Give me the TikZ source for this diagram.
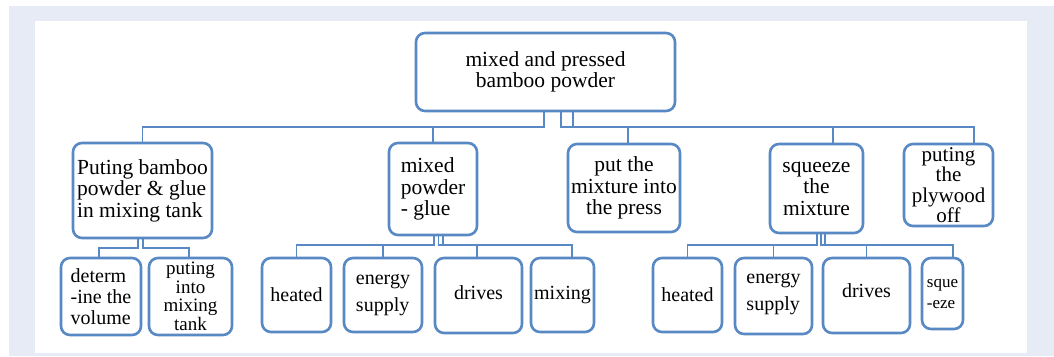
\documentclass[tikz,border=0pt]{standalone}
\usepackage{fontspec}
\setmainfont{Liberation Serif}
\newfontfamily\tnr{Liberation Serif}
\usetikzlibrary{calc}

\definecolor{lineblue}{RGB}{88,137,196}
\definecolor{framebg}{RGB}{231,235,245}

\begin{document}
\begin{tikzpicture}[x=1pt, y=-1pt,
bx/.style = {% rounded boxes
    draw=lineblue, line width=2.6pt, rounded corners=9pt, fill=white,
    inner sep=0pt, outer sep=0pt, align=center,
    font=\tnr\fontsize{20}{21}\selectfont,
            },
big/.style = {font=\tnr\fontsize{21.5}{21.5}\selectfont},
ln/.style = {draw=lineblue, line width=1.8pt},
                        ]
% frame
\useasboundingbox (0,0) rectangle (1054,356);
\fill[framebg] (9,6) rectangle (1054,356);
\fill[white] (35,21) rectangle (1027,353);
% top box
\node[bx,big,minimum width=259,minimum height=78] (top) at (545.5,72)
     {mixed and pressed\\bamboo powder};
% second row
\node[bx,big,align=left,minimum width=139,minimum height=95] (pA) at (142.5,190.5)
     {Puting bamboo\\powder \& glue\\in mixing tank};
\node[bx,big,align=left,minimum width=88,minimum height=92] (pB) at (433,189)
     {mixed\\powder\\- glue};
\node[bx,big,minimum width=112,minimum height=88] (pC) at (624,188)
     {put the\\mixture into\\the press};
\node[bx,big,minimum width=93,minimum height=89] (pD) at (816.5,188.5)
     {squeeze\\the\\mixture};
\node[bx,font=\tnr\fontsize{21}{20.5}\selectfont,minimum width=89,minimum height=82] (pE) at (948.5,185)
     {puting\\the\\plywood\\off};
% third row, under pA
\node[bx,align=left,minimum width=80,minimum height=77] (a1) at (101,296.5)
     {determ\\-ine the\\volume};
\node[bx,font=\tnr\fontsize{19}{18.5}\selectfont,minimum width=83,minimum height=77] (a2) at (190.5,296.5)
     {puting\\into\\mixing\\tank};
% third row, under pB
\node[bx,minimum width=69,minimum height=74] (b1) at (296.5,295) {heated};
\node[bx,align=left,font=\tnr\fontsize{20}{27}\selectfont,minimum width=78,minimum height=74] (b2) at (383,295)
     {energy\\supply};
\node[bx,minimum width=87,minimum height=75] (b3) at (478.5,295.5) {\raisebox{6pt}{drives}};
\node[bx,minimum width=63,minimum height=74] (b4) at (562.5,295) {mixing};
% third row, under pD
\node[bx,minimum width=69,minimum height=74] (d1) at (687.5,295) {heated};
\node[bx,align=left,font=\tnr\fontsize{20}{27}\selectfont,minimum width=77,minimum height=76] (d2) at (773.5,296)
     {\raisebox{8pt}{energy}\\\raisebox{8pt}{supply}};
\node[bx,minimum width=87,minimum height=75] (d3) at (866.5,295.5) {\raisebox{10pt}{drives}};
\node[bx,align=left,font=\tnr\fontsize{17}{21}\selectfont,minimum width=41,minimum height=71] (d4) at (942.5,293.5)
     {sque\\-eze};
% connectors from top box
\foreach \c/\s/\t in {pA/-1.5/0, pB/-1.5/0, pC/15.5/4, pD/27.5/16.5, pE/27.5/25.5}
    {\draw[ln] ([xshift=\s pt]top.south) -- ++(0,16) -| ([xshift=\t pt]\c.north);}
% connectors from pA
\foreach \c/\s/\t in {a1/-4.5/-2, a2/0.5/-1.5}
    {\draw[ln] ([xshift=\s pt]pA.south) -- ++(0,10) -| ([xshift=\t pt]\c.north);}
% connectors from pB
\foreach \c/\s/\t in {b1/1/0, b2/1/0, b3/5.5/-1.5, b4/10/9.5}
    {\draw[ln] ([xshift=\s pt]pB.south) -- ++(0,10) -| ([xshift=\t pt]\c.north);}
% connectors from pD
\foreach \c/\s/\t in {d1/0.5/0, d2/0.5/0, d3/4.5/0, d4/8.5/10.5}
    {\draw[ln] ([xshift=\s pt]pD.south) -- ++(0,12) -| ([xshift=\t pt]\c.north);}
\end{tikzpicture}
\end{document}
